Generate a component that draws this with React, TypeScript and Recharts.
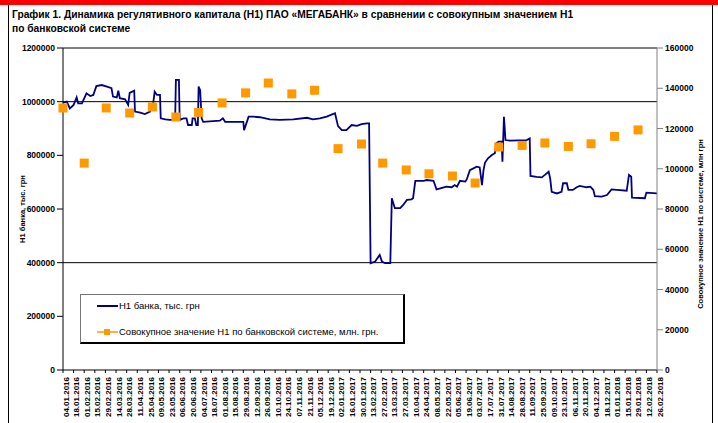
import React from "react";
import { ComposedChart, Line, Scatter, XAxis, YAxis, ReferenceLine, Legend } from "recharts";

// x axis is in days counted from 04.01.2016
const START = Date.UTC(2016, 0, 4);
const dayOf = (s: string) => {
  const [d, m, y] = s.split(".").map(Number);
  return Math.round((Date.UTC(y, m - 1, d) - START) / 86400000);
};

const tickLabels = [
  "04.01.2016", "18.01.2016", "01.02.2016", "15.02.2016", "29.02.2016", "14.03.2016", "28.03.2016",
  "11.04.2016", "25.04.2016", "09.05.2016", "23.05.2016", "06.06.2016", "20.06.2016", "04.07.2016",
  "18.07.2016", "01.08.2016", "15.08.2016", "29.08.2016", "12.09.2016", "26.09.2016", "10.10.2016",
  "24.10.2016", "07.11.2016", "21.11.2016", "05.12.2016", "19.12.2016", "02.01.2017", "16.01.2017",
  "30.01.2017", "13.02.2017", "27.02.2017", "13.03.2017", "27.03.2017", "10.04.2017", "24.04.2017",
  "08.05.2017", "22.05.2017", "05.06.2017", "19.06.2017", "03.07.2017", "17.07.2017", "31.07.2017",
  "14.08.2017", "28.08.2017", "11.09.2017", "25.09.2017", "09.10.2017", "23.10.2017", "06.11.2017",
  "20.11.2017", "04.12.2017", "18.12.2017", "01.01.2018", "15.01.2018", "29.01.2018", "12.02.2018",
  "26.02.2018",
];

// Н1 банка, тыс. грн (day offset, value)
const bankDays = [
  0, 5, 9, 14, 18, 20, 25, 31, 36, 40, 44, 51, 58, 64, 66, 71, 73, 75, 82, 86,
  88, 94, 95, 102, 108, 115, 119, 121, 124, 128, 129, 135, 141, 148, 149, 153, 154, 159, 163, 165,
  170, 171, 174, 176, 178, 179, 181, 183, 185, 207, 211, 214, 238, 239, 245, 251, 260, 273, 286, 304,
  322, 330, 339, 348, 359, 363, 368, 374, 381, 388, 394, 401, 404, 406, 412, 418, 421, 425, 432, 434,
  438, 445, 449, 454, 460, 462, 465, 476, 480, 489, 493, 498, 506, 513, 517, 520, 524, 531, 533, 537,
  546, 550, 553, 555, 557, 561, 566, 570, 572, 575, 579, 580, 582, 584, 590, 612, 616, 617, 625, 632,
  636, 641, 643, 645, 652, 658, 660, 665, 667, 673, 678, 682, 691, 696, 700, 702, 711, 718, 724, 731,
  744, 747, 750, 751, 768, 770, 784,
];
const bankValues = [
  996000, 1000000, 975000, 988000, 1016000, 994000, 994000, 1031000, 1021000, 1025000,
  1058000, 1062000, 1056000, 1050000, 1019000, 1016000, 1041000, 1013000, 1009000, 988000,
  1033000, 1041000, 963000, 959000, 954000, 963000, 994000, 1037000, 1025000, 1025000,
  938000, 934000, 932000, 932000, 1081000, 1081000, 932000, 938000, 938000, 913000,
  913000, 938000, 938000, 913000, 913000, 1056000, 1043000, 938000, 925000, 929000,
  938000, 925000, 925000, 894000, 944000, 944000, 942000, 934000, 932000, 934000,
  940000, 934000, 938000, 944000, 957000, 909000, 894000, 894000, 913000, 910000,
  916000, 919000, 919000, 398000, 404000, 429000, 404000, 398000, 398000, 640000,
  603000, 603000, 615000, 634000, 636000, 640000, 705000, 705000, 708000, 705000,
  673000, 677000, 683000, 681000, 689000, 683000, 705000, 702000, 711000, 745000,
  758000, 755000, 689000, 745000, 773000, 789000, 801000, 808000, 845000, 851000,
  851000, 776000, 944000, 857000, 855000, 857000, 863000, 723000, 720000, 718000,
  727000, 739000, 714000, 664000, 658000, 664000, 696000, 696000, 671000, 671000,
  681000, 686000, 681000, 683000, 671000, 648000, 646000, 652000, 673000, 671000,
  668000, 727000, 720000, 642000, 640000, 661000, 658000,
];

// Совокупное значение Н1 по банковской системе, млн. грн.
const systemDates = [
  "04.01.2016", "01.02.2016", "01.03.2016", "01.04.2016", "01.05.2016", "01.06.2016", "01.07.2016",
  "01.08.2016", "01.09.2016", "01.10.2016", "01.11.2016", "01.12.2016", "01.01.2017", "01.02.2017",
  "01.03.2017", "01.04.2017", "01.05.2017", "01.06.2017", "01.07.2017", "01.08.2017", "01.09.2017",
  "01.10.2017", "01.11.2017", "01.12.2017", "01.01.2018", "01.02.2018",
];
const systemValues = [
  130200, 102800, 130200, 127700, 130700, 125700, 128000, 132700, 137700, 142600,
  137200, 139000, 110000, 112300, 102800, 99400, 97500, 96400, 92900, 110800,
  111600, 112800, 111100, 112400, 116100, 119300,
];

const leftTicks = [0, 200000, 400000, 600000, 800000, 1000000, 1200000];
const rightTicks = [0, 20000, 40000, 60000, 80000, 100000, 120000, 140000, 160000];

const bankData = bankDays.map((day, i) => ({ day, bank: bankValues[i] }));
const systemData = systemDates.map((d, i) => ({ day: dayOf(d), sys: systemValues[i] }));
const tickDays = tickLabels.map(dayOf);
const labelByDay: Record<number, string> = {};
tickLabels.forEach((l) => (labelByDay[dayOf(l)] = l));

const NAVY = "#000080";
const ORANGE = "#FF9900";
const FONT = "'Liberation Sans', Arial, sans-serif";
const axisTick = { fontSize: 8.5, fill: "#000", fontWeight: 700, fontFamily: FONT };

const Square = (props: any) => {
  const { cx, cy } = props;
  if (cx == null || cy == null) return null;
  return <rect x={cx - 4.5} y={cy - 4.5} width={9} height={9} fill={ORANGE} />;
};

const LegendBox = () => (
  <div
    style={{
      width: 322,
      height: 47,
      border: "1px solid #777",
      borderRight: "2px solid #000",
      borderBottom: "2px solid #000",
      background: "#fff",
      fontFamily: FONT,
      fontSize: 9.5,
      color: "#000",
      position: "relative",
    }}
  >
    <div style={{ position: "absolute", left: 16, top: 5, display: "flex", alignItems: "center", whiteSpace: "nowrap" }}>
      <svg width={21} height={10}>
        <line x1={0} y1={5} x2={21} y2={5} stroke={NAVY} strokeWidth={2} />
      </svg>
      <span style={{ marginLeft: 1 }}>Н1 банка, тыс. грн</span>
    </div>
    <div style={{ position: "absolute", left: 16, top: 31, display: "flex", alignItems: "center", whiteSpace: "nowrap" }}>
      <svg width={21} height={10}>
        <line x1={0} y1={5} x2={21} y2={5} stroke={ORANGE} strokeWidth={1.5} />
        <rect x={7} y={2} width={6} height={6} fill={ORANGE} />
      </svg>
      <span style={{ marginLeft: 1 }}>Совокупное значение Н1 по банковской системе, млн. грн.</span>
    </div>
  </div>
);

export default function App() {
  return (
    <div style={{ position: "absolute", left: 0, top: 0, width: 718, height: 423, background: "#fff", overflow: "hidden" }}>
      <div style={{ position: "absolute", left: 0, top: 0, width: 718, height: 5, background: "#FF0000" }} />
      <div style={{ position: "absolute", left: 8, top: 5, width: 0, height: 418, borderLeft: "1px solid #000" }} />
      <div style={{ position: "absolute", left: 712, top: 5, width: 0, height: 418, borderLeft: "1px solid #000" }} />
      <div
        style={{
          position: "absolute",
          left: 12,
          top: 7,
          fontFamily: FONT,
          fontWeight: 700,
          fontSize: 11,
          lineHeight: "14px",
          color: "#000",
          whiteSpace: "nowrap",
          transform: "scaleX(0.93)",
          transformOrigin: "left top",
        }}
      >
        <div>График 1. Динамика регулятивного капитала (Н1) ПАО «МЕГАБАНК» в сравнении с совокупным значением Н1</div>
        <div>по банковской системе</div>
      </div>
      <div style={{ position: "absolute", left: 0, top: 0 }}>
        <ComposedChart width={718} height={423} margin={{ top: 48, right: 0, bottom: 0, left: 0 }}>
          <XAxis
            dataKey="day"
            type="number"
            domain={[0, 784]}
            ticks={tickDays}
            interval={0}
            allowDuplicatedCategory={false}
            height={53}
            tickSize={3}
            tickMargin={1}
            stroke="#000"
            angle={-90}
            textAnchor="end"
            tick={{ ...axisTick, fontSize: 8, dy: 3 }}
            tickFormatter={(d: number) => labelByDay[d] ?? ""}
          />
          <YAxis
            yAxisId="l"
            domain={[0, 1200000]}
            ticks={leftTicks}
            interval={0}
            width={63}
            tickSize={6}
            tickMargin={2}
            stroke="#000"
            tick={axisTick}
            label={{
              value: "Н1 банка, тыс. грн",
              angle: -90,
              position: "insideLeft",
              offset: 22,
              style: { textAnchor: "middle", fontSize: 7.5, fontWeight: 700, fontFamily: FONT, fill: "#000" },
            }}
          />
          <YAxis
            yAxisId="r"
            orientation="right"
            domain={[0, 160000]}
            ticks={rightTicks}
            interval={0}
            width={61}
            tickSize={6}
            tickMargin={2}
            stroke="#808080"
            tick={axisTick}
            label={{
              value: "Совокупное значение Н1 по системе, млн грн",
              angle: -90,
              position: "insideRight",
              offset: 18,
              dy: 15,
              style: { textAnchor: "middle", fontSize: 7.5, fontWeight: 700, fontFamily: FONT, fill: "#000" },
            }}
          />
          <ReferenceLine yAxisId="l" y={1200000} stroke="#000" strokeWidth={1} />
          <ReferenceLine yAxisId="l" y={1000000} stroke="#000" strokeWidth={1} />
          <ReferenceLine yAxisId="l" y={400000} stroke="#000" strokeWidth={1} />
          <Line
            yAxisId="l"
            data={bankData}
            dataKey="bank"
            type="linear"
            stroke={NAVY}
            strokeWidth={1.8}
            dot={false}
            isAnimationActive={false}
          />
          <Scatter
            yAxisId="r"
            data={systemData}
            dataKey="sys"
            fill={ORANGE}
            shape={<Square />}
            isAnimationActive={false}
          />
          <Legend
            layout="vertical"
            align="center"
            verticalAlign="middle"
            content={<LegendBox />}
            wrapperStyle={{ left: 80, top: 294, width: 325, height: 50 }}
          />
        </ComposedChart>
      </div>
    </div>
  );
}
